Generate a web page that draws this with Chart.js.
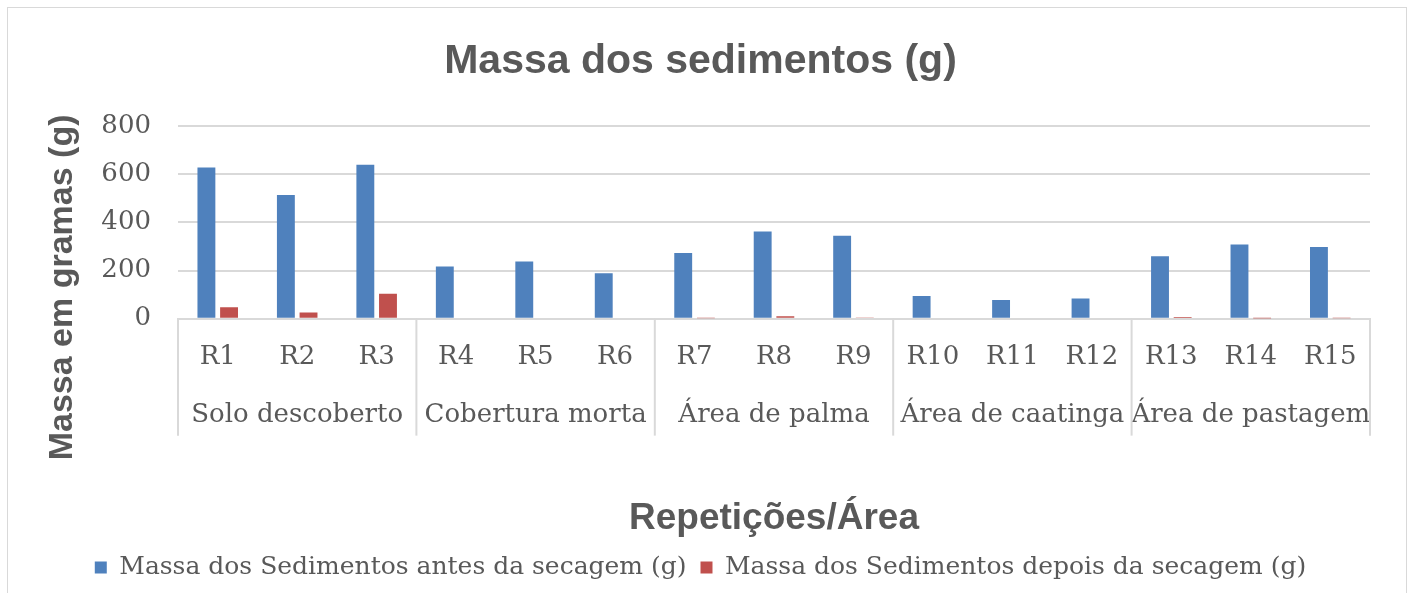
<!DOCTYPE html>
<html>
<head>
<meta charset="utf-8">
<script src="https://cdn.jsdelivr.net/npm/chart.js@4.4.1/dist/chart.umd.min.js"></script>
<style>
  html, body { margin: 0; padding: 0; background: #fff; overflow: hidden; }
  #wrap { position: relative; width: 1407px; height: 593px; }
  #frame { position: absolute; left: 7px; top: 7px; width: 1398px; height: 600px; border: 1px solid #d9d9d9; }
  #chart { position: absolute; left: 0; top: 0; }
</style>
</head>
<body>
<div id="wrap">
  <div id="frame"></div>
  <canvas id="chart" width="1407" height="593"></canvas>
</div>
<script>
const reps = ['R1', 'R2', 'R3', 'R4', 'R5', 'R6', 'R7', 'R8', 'R9', 'R10', 'R11', 'R12', 'R13', 'R14', 'R15'];
const groups = ['Solo descoberto', 'Cobertura morta', 'Área de palma', 'Área de caatinga', 'Área de pastagem'];
const antes = [628, 514, 640, 217, 238, 189, 273, 362, 345, 94, 78, 84, 259, 308, 298];
const depois = [47, 26, 103, 0, 0, 0, 2, 10, 5, 0, 0, 0, 7, 1, 2];
const yTicks = [0, 200, 400, 600, 800];

const grey = '#595959';
const lineGrey = '#d9d9d9';
const serif = 'DejaVu Serif';
const sans = 'Liberation Sans';

// two-line labels: rep on top, group name under the middle rep of each group
const labels = reps.map((r, i) => [r, i % 3 === 1 ? groups[Math.floor(i / 3)] : '']);

const groupLines = {
  id: 'groupLines',
  afterDraw(chart) {
    const x = chart.scales.x;
    const ctx = chart.ctx;
    const half = (x.getPixelForTick(1) - x.getPixelForTick(0)) / 2;
    ctx.save();
    ctx.strokeStyle = lineGrey;
    ctx.lineWidth = 2;
    for (let i = 0; i <= reps.length; i += 3) {
      const px = i < reps.length ? x.getPixelForTick(i) - half : x.getPixelForTick(i - 1) + half;
      ctx.beginPath();
      ctx.moveTo(px, x.top);
      ctx.lineTo(px, x.top + 117);
      ctx.stroke();
    }
    ctx.restore();
  }
};

// y title centred over plot + category labels, like the original
const yTitle = {
  id: 'yTitle',
  afterDraw(chart) {
    const ctx = chart.ctx;
    const x = chart.scales.x;
    const mid = (chart.chartArea.top + x.top + 130) / 2;
    ctx.save();
    ctx.translate(63, mid);
    ctx.rotate(-Math.PI / 2);
    ctx.font = 'bold 34px "' + sans + '"';
    ctx.fillStyle = grey;
    ctx.textAlign = 'center';
    ctx.textBaseline = 'middle';
    ctx.fillText('Massa em gramas (g)', 0, 0);
    ctx.restore();
  }
};

new Chart(document.getElementById('chart'), {
  type: 'bar',
  data: {
    labels: labels,
    datasets: [{
      label: 'Massa dos Sedimentos antes da secagem (g)',
      data: antes,
      backgroundColor: '#4f81bd',
      categoryPercentage: 0.57,
      barPercentage: 0.79
    }, {
      label: 'Massa dos Sedimentos depois da secagem (g)',
      data: depois,
      backgroundColor: '#c0504d',
      categoryPercentage: 0.57,
      barPercentage: 0.79
    }]
  },
  options: {
    responsive: false,
    animation: false,
    layout: {
      padding: { left: 31, right: 37, top: 0, bottom: 3 }
    },
    plugins: {
      title: {
        display: true,
        text: 'Massa dos sedimentos (g)',
        color: grey,
        font: { family: sans, size: 41, weight: 'bold' },
        padding: { top: 37, bottom: 40 }
      },
      legend: {
        position: 'bottom',
        labels: {
          color: grey,
          font: { family: serif, size: 25 },
          boxWidth: 12,
          boxHeight: 12,
          padding: 14
        }
      },
      tooltip: { enabled: false }
    },
    scales: {
      x: {
        grid: { display: false },
        border: { display: true, color: lineGrey, width: 2 },
        ticks: {
          color: grey,
          font: { family: serif, size: 26, lineHeight: 2.23 },
          padding: 2,
          autoSkip: false,
          maxRotation: 0,
          minRotation: 0
        },
        title: {
          display: true,
          text: 'Repetições/Área',
          color: grey,
          font: { family: sans, size: 37, weight: 'bold' },
          padding: { top: 50, bottom: 0 }
        }
      },
      y: {
        min: yTicks[0],
        max: yTicks[yTicks.length - 1],
        afterBuildTicks(scale) {
          scale.ticks = yTicks.map(v => ({ value: v }));
        },
        afterFit(scale) {
          scale.width = 147;
        },
        grid: { color: lineGrey, lineWidth: 2, drawTicks: false },
        border: { display: false },
        ticks: {
          color: grey,
          font: { family: serif, size: 26 },
          padding: 27
        }
      }
    }
  },
  plugins: [groupLines, yTitle]
});
</script>
</body>
</html>
